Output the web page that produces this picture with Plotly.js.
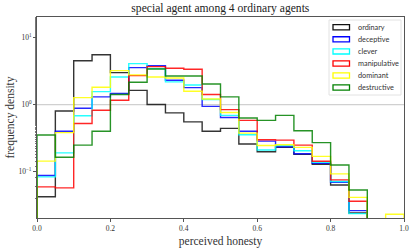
<!DOCTYPE html>
<html>
<head>
<meta charset="utf-8">
<script src="https://cdn.plot.ly/plotly-3.0.1.min.js"></script>
<style>html,body{margin:0;padding:0;background:#fff;}#chart{width:415px;height:249px;}</style>
</head>
<body>
<div id="chart"></div>
<script>
// Bin edges: 20 bins of width 0.05 from 0 to 1
const binEdges = [0,0.05,0.1,0.15,0.2,0.25,0.3,0.35,0.4,0.45,0.5,0.55,0.6,0.65,0.7,0.75,0.8,0.85,0.9,0.95,1.0];
const seriesNames = ["ordinary","deceptive","clever","manipulative","dominant","destructive"];
const seriesColors = ["#111111","#0000ff","#00ffff","#ff0000","#ffff00","#008000"];

const ordinary     = [0.042,0.80,4.5,5.55,3.0,1.63,1.0,0.75,0.55,0.40,0.44,0.257,0.197,0.23,0.18,0.128,0.063,0.024,0,0];
const deceptive    = [0.087,0.40,0.88,1.30,1.46,3.56,3.8,2.3,1.79,0.94,0.64,0.40,0.284,0.234,0.184,0.132,0.069,0.026,0,0];
const clever       = [0.083,0.19,0.68,1.56,2.58,4.08,3.44,2.18,1.96,1.19,0.69,0.353,0.209,0.243,0.204,0.137,0.071,0.0235,0,0];
const manipulative = [0.059,0.057,0.52,0.82,1.16,2.7,3.68,3.48,3.36,1.41,0.84,0.58,0.298,0.294,0.248,0.142,0.075,0.036,0,0];
const dominant     = [0.143,0.38,1.27,1.81,3.21,2.77,2.58,2.49,1.58,1.21,0.76,0.374,0.245,0.251,0.229,0.168,0.092,0.041,0,0.023];
const destructive  = [0.35,0.163,0.248,0.40,1.41,2.15,3.4,2.67,2.67,2.03,1.30,0.63,0.58,0.69,0.405,0.27,0.125,0.053,0,0];

const allSeries = [ordinary,deceptive,clever,manipulative,dominant,destructive];
const FLOOR = 1e-4;

function stepPath(vals){
  const xs=[binEdges[0]], ys=[FLOOR];
  for(let i=0;i<vals.length;i++){
    const v = vals[i] > 0 ? vals[i] : FLOOR;
    xs.push(binEdges[i], binEdges[i+1]);
    ys.push(v, v);
  }
  xs.push(binEdges[binEdges.length-1]); ys.push(FLOOR);
  return {xs, ys};
}

const traces = [];
allSeries.forEach((vals,k)=>{
  const p = stepPath(vals);
  traces.push({
    x:p.xs, y:p.ys, type:'scatter', mode:'lines',
    line:{color:seriesColors[k], width:1.4},
    opacity:0.85,
    showlegend:false, hoverinfo:'skip'
  });
});

const W=415, H=249, M={l:37, r:11, t:17, b:31};
const pw = W-M.l-M.r, ph = H-M.t-M.b;
const px = v => (v-M.l)/pw;      // pixel x -> paper x
const py = v => 1-(v-M.t)/ph;    // pixel y -> paper y

// manual legend (outlined patches like matplotlib)
const shapes = [
  {type:'line', xref:'paper', x0:0, x1:1, yref:'y', y0:1, y1:1, line:{color:'#d0d0d0', width:1.2}, layer:'below'},
  {type:'rect', xref:'paper', yref:'paper', x0:px(329), x1:px(401), y0:py(20), y1:py(95),
   fillcolor:'rgba(255,255,255,0.9)', line:{color:'#e2e2e2', width:1}, layer:'above'}
];
const annotations = [];
seriesNames.forEach((name,k)=>{
  const cy = 27.3 + k*12.05;
  shapes.push({type:'rect', xref:'paper', yref:'paper', x0:px(333), x1:px(349.5), y0:py(cy-2.6), y1:py(cy+2.6),
    fillcolor:'rgba(0,0,0,0)', line:{color:seriesColors[k], width:1.3}, layer:'above'});
  annotations.push({xref:'paper', yref:'paper', x:px(355.5), y:py(cy), xanchor:'left', yanchor:'middle',
    text:name, showarrow:false, font:{family:'Lato, sans-serif', size:7.3, color:'#333'}});
});

const serif = "Liberation Serif, DejaVu Serif, serif";
const layout = {
  width:W, height:H,
  margin:M,
  paper_bgcolor:'#fff', plot_bgcolor:'#fff',
  title:{text:'special agent among 4 ordinary agents', font:{family:serif, size:11.6, color:'#222'}, x:0.531, xanchor:'center', y:0.985, yanchor:'top'},
  xaxis:{
    range:[0,1], showgrid:false, zeroline:false,
    showline:true, linecolor:'#555', linewidth:1, mirror:true,
    ticks:'outside', ticklen:3, tickcolor:'#555',
    tickvals:[0,0.2,0.4,0.6,0.8,1.0], ticktext:['0.0','0.2','0.4','0.6','0.8','1.0'],
    tickfont:{family:serif, size:7.5, color:'#333'},
    title:{text:'perceived honesty', font:{family:serif, size:11.5, color:'#333'}, standoff:4}
  },
  yaxis:{
    type:'log', range:[Math.log10(0.0202), Math.log10(20.3)],
    showgrid:false, zeroline:false,
    showline:true, linecolor:'#555', linewidth:1, mirror:true,
    ticks:'outside', ticklen:3, tickcolor:'#555',
    tickvals:[0.1,1,10], ticktext:['10<sup>−1</sup>','10<sup>0</sup>','10<sup>1</sup>'],
    tickfont:{family:serif, size:7.5, color:'#333'},
    minor:{ticks:'outside', ticklen:1.5, tickcolor:'#777'},
    title:{text:'frequency density', font:{family:serif, size:11.5, color:'#333'}, standoff:1}
  },
  shapes:shapes,
  annotations:annotations,
  showlegend:false
};
Plotly.newPlot('chart', traces, layout, {staticPlot:true});
</script>
</body>
</html>
